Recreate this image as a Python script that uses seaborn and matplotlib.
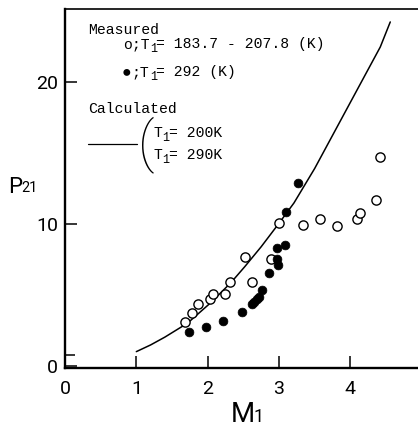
import matplotlib
matplotlib.use("Agg")
import matplotlib.pyplot as plt
import seaborn as sns
import pandas as pd

# ---- data ----
open_x = [1.678, 1.780, 1.860, 2.033, 2.079, 2.243, 2.318, 2.519, 2.626, 2.890,
          3.000, 3.332, 3.575, 3.808, 4.098, 4.131, 4.364, 4.420]
open_y = [3.14, 3.72, 4.38, 4.71, 5.08, 5.08, 5.93, 7.70, 5.95, 7.53,
          10.07, 9.91, 10.33, 9.86, 10.33, 10.80, 11.66, 14.73]
filled_x = [1.734, 1.977, 2.215, 2.477, 2.617, 2.654, 2.692, 2.715, 2.762, 2.864,
            2.977, 2.972, 2.982, 3.088, 3.098, 3.266]
filled_y = [2.39, 2.79, 3.19, 3.82, 4.36, 4.54, 4.75, 4.89, 5.36, 6.58,
            8.31, 7.52, 7.12, 8.52, 10.87, 12.88]
calc_x = [1.0, 1.2, 1.4, 1.72, 2.05, 2.33, 2.52, 2.75, 3.0, 3.21, 3.5, 3.92, 4.2, 4.42, 4.56]
calc_y = [1.03, 1.5, 2.05, 3.04, 4.5, 5.9, 7.0, 8.4, 10.05, 11.48, 13.9, 17.8, 20.4, 22.44, 24.2]

x_ticks = [0, 1, 2, 3, 4]
y_ticks = [0, 10, 20]

open_df = pd.DataFrame({"M1": open_x, "P21": open_y})
filled_df = pd.DataFrame({"M1": filled_x, "P21": filled_y})
calc_df = pd.DataFrame({"M1": calc_x, "P21": calc_y})

sns.set_theme(style="white")
plt.rcParams["font.family"] = ["Roboto", "DejaVu Sans"]
plt.rcParams["text.color"] = "black"

W, H = 418, 430
fig = plt.figure(figsize=(W / 100, H / 100), dpi=100)

def fx(px):
    return px / W

def fy(py):
    return 1 - py / H

ax = fig.add_axes([fx(65), fy(368), fx(418) - fx(65), fy(9) - fy(368)])

sns.lineplot(data=calc_df, x="M1", y="P21", sort=False, estimator=None,
             color="black", linewidth=1.1, ax=ax)
sns.scatterplot(data=open_df, x="M1", y="P21", marker="o", s=44,
                facecolor="white", edgecolor="black", linewidth=1.0, ax=ax, zorder=3)
sns.scatterplot(data=filled_df, x="M1", y="P21", marker="o", s=40,
                color="black", edgecolor="black", linewidth=0.5, ax=ax, zorder=4)

ax.set_xlim(0, 353 / 71.33)
ax.set_ylim(-0.12, 25.11)
ax.set_xticks(x_ticks)
ax.set_yticks(y_ticks)
ax.set_yticks([0.8], minor=True)
ax.set_xticklabels([str(t) for t in x_ticks], fontsize=14, color="black")
ax.set_yticklabels([str(t) for t in y_ticks], fontsize=14, color="black")
ax.set_xlabel("")
ax.set_ylabel("")
ax.tick_params(axis="both", which="both", direction="in", length=8.6, width=1.1,
               colors="black", bottom=True, left=True, top=False, right=False)
ax.tick_params(axis="x", pad=8.5)
ax.tick_params(axis="y", pad=5)
ax.tick_params(axis="y", which="minor", length=7.5)
for side in ["left", "bottom"]:
    ax.spines[side].set_linewidth(1.7)
    ax.spines[side].set_color("black")
ax.spines["top"].set_linewidth(1.2)
ax.spines["top"].set_color("black")
ax.spines["right"].set_visible(False)

# axis labels
fig.text(fx(8), fy(193), "P", fontsize=16, ha="left", va="baseline")
fig.text(fx(21.5), fy(192), "21", fontsize=10.5, ha="left", va="baseline")
fig.text(fx(231), fy(422), "M", fontsize=20, ha="left", va="baseline")
fig.text(fx(254), fy(422), "1", fontsize=13, ha="left", va="baseline")

# legend block (typewriter text)
mono = ["Liberation Mono", "DejaVu Sans Mono"]
ls = 10.6
cw = 0.6 * ls * 100 / 72  # monospace advance in px

def mtext(px, py, s, size=ls):
    fig.text(fx(px), fy(py), s, fontsize=size, family=mono, ha="left", va="baseline")

def tline(px, py, head, tail):
    # head text, then subscript "1", then tail
    mtext(px, py, head)
    sx = px + cw * len(head) + 0.5
    mtext(sx, py + 4, "1", size=8.5)
    mtext(sx + 6.5, py, tail)

mtext(88, 34, "Measured")
tline(123, 48, "o;T", "= 183.7 - 207.8 (K)")
mtext(121.5, 76.5, "\u25cf", size=11.5)
tline(123 + cw, 76, ";T", "= 292 (K)")
mtext(88, 113, "Calculated")
tline(153, 137, "T", "= 200K")
tline(153, 159, "T", "= 290K")
fig.add_artist(plt.Line2D([fx(88), fx(137)], [fy(144), fy(144)], color="black", lw=0.9))
fig.text(fx(137.5), fy(145), "(", fontsize=40, fontweight=100, family=["Roboto"],
         ha="left", va="center")

fig.savefig("out.png", dpi=100)
